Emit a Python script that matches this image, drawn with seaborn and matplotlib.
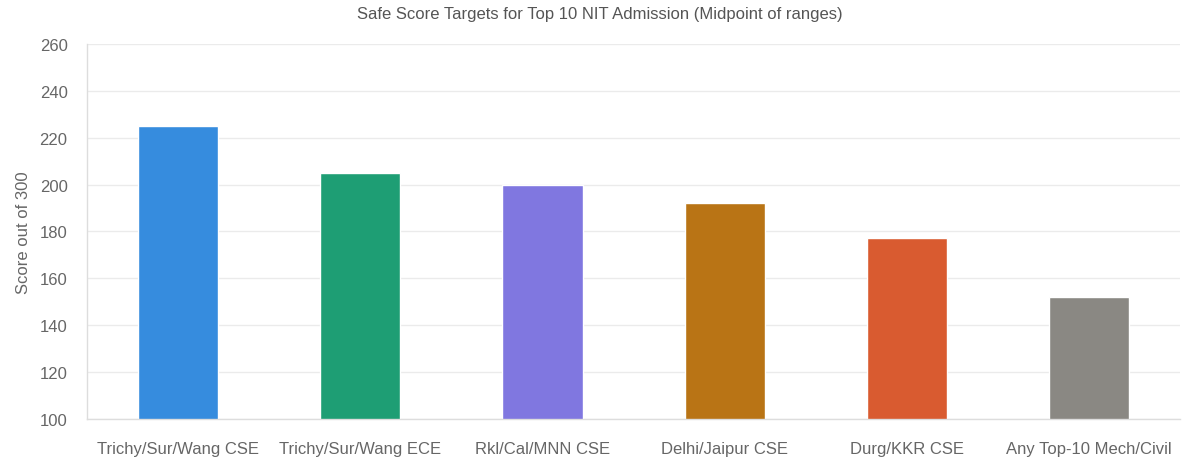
import pandas as pd
import matplotlib.pyplot as plt
import seaborn as sns

# Chart data
categories = ['Trichy/Sur/Wang CSE', 'Trichy/Sur/Wang ECE', 'Rkl/Cal/MNN CSE',
              'Delhi/Jaipur CSE', 'Durg/KKR CSE', 'Any Top-10 Mech/Civil']
scores = [225, 205, 200, 192, 177, 152]
colors = ['#368CDE', '#1E9E74', '#8077E0', '#B97415', '#D95B30', '#8A8883']

df = pd.DataFrame({'Category': categories, 'Score': scores})

sns.set_style('white')
plt.rcParams['font.family'] = ['Liberation Sans', 'DejaVu Sans']

fig = plt.figure(figsize=(12, 4.64), dpi=100)
ax = fig.add_axes([0.0725, 0.095, 0.911, 0.808])

sns.barplot(data=df, x='Category', y='Score', hue='Category', palette=colors,
            saturation=1, legend=False, width=0.44, ax=ax, zorder=2)

ax.set_ylim(100, 260)
ax.set_yticks(range(100, 261, 20))
ax.set_xlim(-0.5, len(categories) - 0.5)

# light gridlines and axes
ax.grid(axis='y', color='#ebebeb', linewidth=1, zorder=0)
for side in ['top', 'right']:
    ax.spines[side].set_visible(False)
for side in ['left', 'bottom']:
    ax.spines[side].set_color('#dddddd')
    ax.spines[side].set_linewidth(1)

ax.tick_params(axis='y', length=10, color='#e6e6e6', labelcolor='#666666', labelsize=12, pad=4)
ax.tick_params(axis='x', length=0, labelcolor='#666666', labelsize=12, pad=16)

ax.set_xlabel('')
ax.set_ylabel('Score out of 300', color='#666666', fontsize=12, labelpad=6)
fig.suptitle('Safe Score Targets for Top 10 NIT Admission (Midpoint of ranges)',
             color='#555555', fontsize=12, y=0.985)

plt.savefig('out.png', dpi=100)
plt.close()
